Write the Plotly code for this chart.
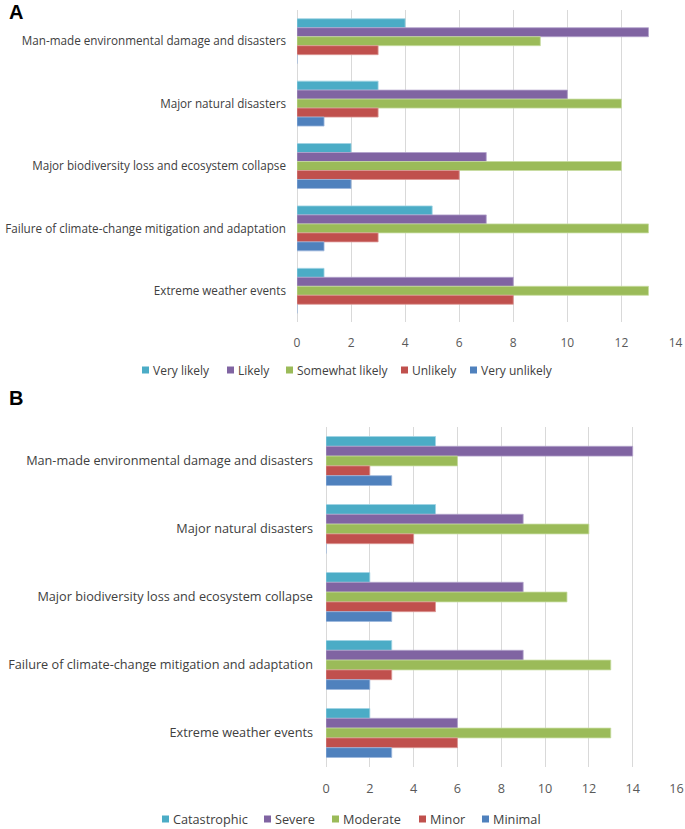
import plotly.graph_objects as go

categories = [
    "Man-made environmental damage and disasters",
    "Major natural disasters",
    "Major biodiversity loss and ecosystem collapse",
    "Failure of climate-change mitigation and adaptation",
    "Extreme weather events",
]

# Panel A: likelihood
a_series = ["Very likely", "Likely", "Somewhat likely", "Unlikely", "Very unlikely"]
a_very_likely = [4, 3, 2, 5, 1]
a_likely = [13, 10, 7, 7, 8]
a_somewhat = [9, 12, 12, 13, 13]
a_unlikely = [3, 3, 6, 3, 8]
a_very_unlikely = [0, 1, 2, 1, 0]

# Panel B: impact
b_series = ["Catastrophic", "Severe", "Moderate", "Minor", "Minimal"]
b_catastrophic = [5, 5, 2, 3, 2]
b_severe = [14, 9, 9, 9, 6]
b_moderate = [6, 12, 11, 13, 13]
b_minor = [2, 4, 5, 3, 6]
b_minimal = [3, 0, 3, 2, 3]

colors = ["#4BACC6", "#8064A2", "#9BBB59", "#C0504D", "#4F81BD"]
edge = ["#9fd3e3", "#b3a2cc", "#c7dca0", "#dc9896", "#9cb6dc"]

W, H = 685, 829
FONT = "Open Sans"
TXT = "#404040"
FS_A = 11.7
FS_B = 12.7


def px_x(p):
    return p / W


def px_y(p):
    return 1 - p / H


fig = go.Figure()

a_vals = [a_very_likely, a_likely, a_somewhat, a_unlikely, a_very_unlikely]
for name, vals, c, e in zip(a_series, a_vals, colors, edge):
    fig.add_trace(go.Bar(
        x=vals, y=categories, orientation="h", name=name, showlegend=False,
        marker=dict(color=c, line=dict(color=e, width=0.8)),
        xaxis="x", yaxis="y",
    ))

b_vals = [b_catastrophic, b_severe, b_moderate, b_minor, b_minimal]
for name, vals, c, e in zip(b_series, b_vals, colors, edge):
    fig.add_trace(go.Bar(
        x=vals, y=categories, orientation="h", name=name, showlegend=False,
        marker=dict(color=c, line=dict(color=e, width=0.8)),
        xaxis="x2", yaxis="y2",
    ))

grid = "#D9D9D9"


def xax(fs):
    return dict(showgrid=True, gridcolor=grid, gridwidth=1, zeroline=True,
                zerolinecolor=grid, zerolinewidth=1, showline=False, ticks="",
                ticklabelstandoff=12, automargin=False, fixedrange=True,
                tickfont=dict(family=FONT, size=fs, color="#595959"))


def yax(fs, standoff):
    return dict(autorange="reversed", showgrid=False, zeroline=False, showline=False,
                ticks="", ticklabelstandoff=standoff, automargin=False, fixedrange=True,
                tickfont=dict(family=FONT, size=fs, color=TXT))


# Custom legends (small square swatch + label), placed like the reference
legend_a_x = [151, 236, 295, 410, 479]
legend_b_x = [171, 273, 341, 428, 491]
legend_a_y = 370
legend_b_y = 819

shapes = []
annotations = []
for names, xs, yc, fs in [(a_series, legend_a_x, legend_a_y, 12),
                          (b_series, legend_b_x, legend_b_y, FS_B)]:
    for name, xp, c in zip(names, xs, colors):
        shapes.append(dict(type="rect", xref="paper", yref="paper",
                           x0=px_x(xp - 9), x1=px_x(xp - 2),
                           y0=px_y(yc + 3.5), y1=px_y(yc - 3.5),
                           fillcolor=c, line=dict(width=0)))
        annotations.append(dict(text=name, x=px_x(xp), y=px_y(yc), xref="paper", yref="paper",
                                xanchor="left", yanchor="middle", showarrow=False,
                                font=dict(family=FONT, size=fs, color=TXT)))

annotations += [
    dict(text="<b>A</b>", x=px_x(7), y=px_y(12), xref="paper", yref="paper",
         xanchor="left", yanchor="middle", showarrow=False,
         font=dict(family="Liberation Sans", size=20, color="black")),
    dict(text="<b>B</b>", x=px_x(7), y=px_y(398), xref="paper", yref="paper",
         xanchor="left", yanchor="middle", showarrow=False,
         font=dict(family="Liberation Sans", size=20, color="black")),
]

fig.update_layout(
    width=W, height=H,
    margin=dict(l=0, r=0, t=0, b=0, autoexpand=False),
    paper_bgcolor="white", plot_bgcolor="white",
    barmode="group", bargap=0.28, bargroupgap=0,
    font=dict(family=FONT, size=12, color=TXT),
    showlegend=False,
    xaxis=dict(domain=[px_x(297), px_x(675.5)], range=[0, 14], dtick=2,
               anchor="y", **xax(12)),
    yaxis=dict(domain=[px_y(322), px_y(10)], anchor="x", **yax(FS_A, 10)),
    xaxis2=dict(domain=[px_x(326), px_x(676.5)], range=[0, 16], dtick=2,
                anchor="y2", **xax(FS_B)),
    yaxis2=dict(domain=[px_y(767), px_y(427)], anchor="x2", **yax(FS_B, 12)),
    shapes=shapes,
    annotations=annotations,
)

fig.write_html(
    "out.html",
    config={"displayModeBar": False},
    post_script="document.body.style.margin='0';document.body.style.padding='0';"
                "document.documentElement.style.overflow='hidden';",
)
